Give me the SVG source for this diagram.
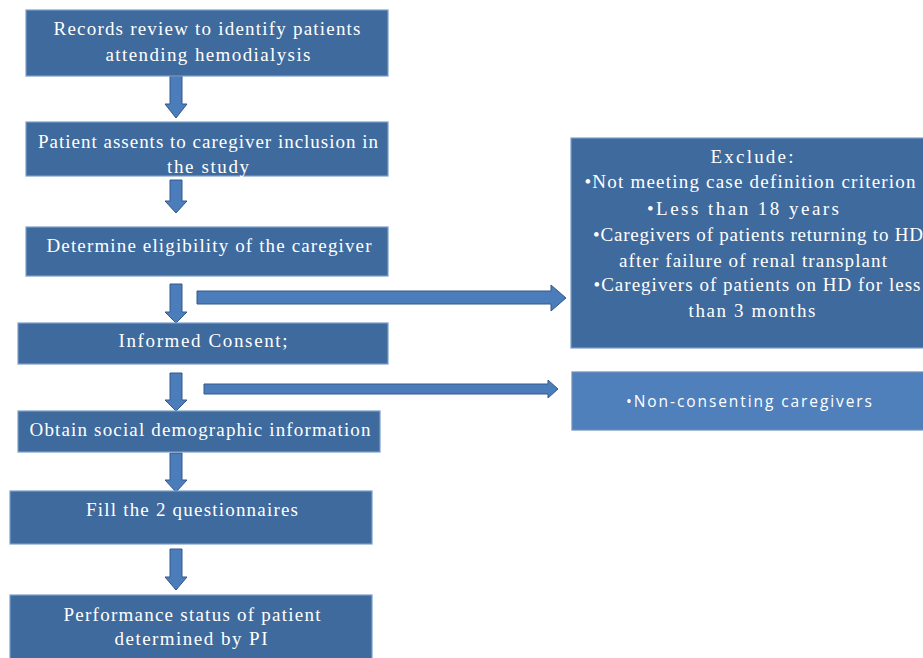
<svg xmlns="http://www.w3.org/2000/svg" width="923" height="658" viewBox="0 0 923 658">
<style>
.box{fill:#3e6a9d;stroke:#7d9fca;stroke-width:1.2}
.box2{fill:#4f80bc;stroke:#6e8fb8;stroke-width:1.2}
.arr{fill:#4a7dba;stroke:#35598a;stroke-width:1}
.t{font-family:"Liberation Serif","Times New Roman",serif;font-size:19px;fill:#ffffff}
.s{font-family:"Open Sans","Liberation Sans",Arial,sans-serif;font-size:15.5px;fill:#ffffff}
</style>
<rect width="923" height="658" fill="#ffffff"/>
<g id="connectors">
<polygon class="arr" points="170,76 182,76 182,104 187,104 176,118 165,104 170,104"/>
<polygon class="arr" points="170,180 182,180 182,201 187,201 176,213 165,201 170,201"/>
<polygon class="arr" points="170,284 182,284 182,312 187,312 176,323 165,312 170,312"/>
<polygon class="arr" points="170,373 182,373 182,400 187,400 176,411 165,400 170,400"/>
<polygon class="arr" points="170,453 182,453 182,480 187,480 176,492 165,480 170,480"/>
<polygon class="arr" points="170,549 182,549 182,577 187,577 176,590 165,577 170,577"/>
<polygon class="arr" points="197,291 551,291 551,285 566,298 551,311 551,304 197,304"/>
<polygon class="arr" points="204,384 548,384 548,380 558,389 548,398 548,394 204,394"/>
</g>
<g id="n1">
<rect class="box" x="26" y="10" width="362" height="66"/>
<text class="t" x="207" y="35" text-anchor="middle" textLength="307" lengthAdjust="spacing">Records review to identify patients</text>
<text class="t" x="208" y="61" text-anchor="middle" textLength="205" lengthAdjust="spacing">attending hemodialysis</text>
</g>
<g id="n2">
<rect class="box" x="26" y="122" width="362" height="54"/>
<text class="t" x="208" y="148" text-anchor="middle" textLength="340" lengthAdjust="spacing">Patient assents to caregiver inclusion in</text>
<text class="t" x="208" y="173" text-anchor="middle" textLength="82" lengthAdjust="spacing">the study</text>
</g>
<g id="n3">
<rect class="box" x="26" y="227" width="362" height="49"/>
<text class="t" x="209" y="252" text-anchor="middle" textLength="325" lengthAdjust="spacing">Determine eligibility of the caregiver</text>
</g>
<g id="n4">
<rect class="box" x="18" y="323" width="370" height="41"/>
<text class="t" x="203" y="347" text-anchor="middle" textLength="169" lengthAdjust="spacing">Informed Consent;</text>
</g>
<g id="n5">
<rect class="box" x="18" y="411" width="362" height="41"/>
<text class="t" x="200" y="436" text-anchor="middle" textLength="341" lengthAdjust="spacing">Obtain social demographic information</text>
</g>
<g id="n6">
<rect class="box" x="10" y="491" width="362" height="53"/>
<text class="t" x="192" y="516" text-anchor="middle" textLength="212" lengthAdjust="spacing">Fill the 2 questionnaires</text>
</g>
<g id="n7">
<rect class="box" x="10" y="595" width="362" height="70"/>
<text class="t" x="192" y="621" text-anchor="middle" textLength="257" lengthAdjust="spacing">Performance status of patient</text>
<text class="t" x="191" y="645" text-anchor="middle" textLength="153" lengthAdjust="spacing">determined by PI</text>
</g>
<g id="exclude">
<rect class="box" x="571" y="138" width="366" height="210"/>
<text class="t" x="752" y="163" text-anchor="middle" textLength="83" lengthAdjust="spacing">Exclude:</text>
<text class="t" x="750" y="188" text-anchor="middle" textLength="331" lengthAdjust="spacing">•Not meeting case definition criterion</text>
<text class="t" x="743" y="215" text-anchor="middle" textLength="192" lengthAdjust="spacing">•Less than 18 years</text>
<text class="t" x="758" y="241" text-anchor="middle" textLength="330" lengthAdjust="spacing">•Caregivers of patients returning to HD</text>
<text class="t" x="753" y="267" text-anchor="middle" textLength="268" lengthAdjust="spacing">after failure of renal transplant</text>
<text class="t" x="757" y="291" text-anchor="middle" textLength="327" lengthAdjust="spacing">•Caregivers of patients on HD for less</text>
<text class="t" x="752" y="317" text-anchor="middle" textLength="127" lengthAdjust="spacing">than 3 months</text>
</g>
<g id="nonconsent">
<rect class="box2" x="572" y="372" width="365" height="58"/>
<text class="s" x="749" y="407" text-anchor="middle" textLength="246" lengthAdjust="spacing">•Non-consenting caregivers</text>
</g>
</svg>
